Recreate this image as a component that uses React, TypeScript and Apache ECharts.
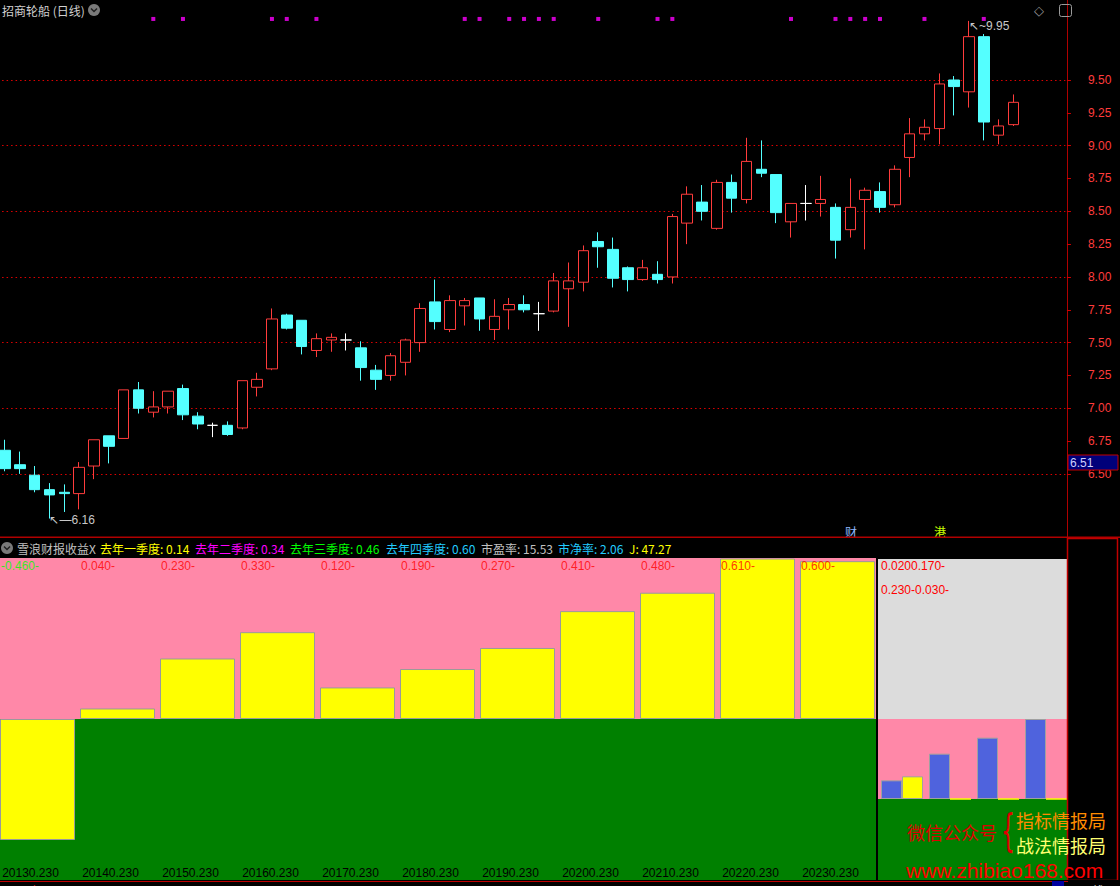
import React, { useEffect, useRef } from "react";
import * as echarts from "echarts";

// ---------------- data ----------------
const stockName = "招商轮船";
const periodName = "日线";
// daily candles: [open, close, low, high]
const candles: number[][] = [
  [6.68, 6.54, 6.52, 6.76],
  [6.57, 6.54, 6.5, 6.67],
  [6.49, 6.38, 6.36, 6.56],
  [6.38, 6.34, 6.16, 6.43],
  [6.36, 6.35, 6.21, 6.42],
  [6.35, 6.55, 6.23, 6.59],
  [6.56, 6.76, 6.46, 6.76],
  [6.79, 6.71, 6.58, 6.79],
  [6.77, 7.14, 6.77, 7.14],
  [7.14, 7.0, 6.96, 7.2],
  [6.97, 7.01, 6.93, 7.13],
  [7.01, 7.13, 6.96, 7.13],
  [7.15, 6.95, 6.91, 7.18],
  [6.94, 6.88, 6.84, 6.97],
  [6.87, 6.87, 6.78, 6.89],
  [6.87, 6.8, 6.79, 6.9],
  [6.85, 7.21, 6.84, 7.21],
  [7.16, 7.22, 7.09, 7.27],
  [7.3, 7.68, 7.29, 7.76],
  [7.71, 7.61, 7.6, 7.72],
  [7.67, 7.47, 7.41, 7.67],
  [7.44, 7.53, 7.39, 7.57],
  [7.52, 7.54, 7.43, 7.57],
  [7.52, 7.52, 7.44, 7.57],
  [7.46, 7.31, 7.21, 7.51],
  [7.29, 7.22, 7.14, 7.33],
  [7.25, 7.4, 7.21, 7.42],
  [7.35, 7.52, 7.25, 7.53],
  [7.5, 7.76, 7.43, 7.8],
  [7.81, 7.66, 7.6, 7.98],
  [7.6, 7.82, 7.58, 7.86],
  [7.78, 7.82, 7.63, 7.84],
  [7.84, 7.68, 7.59, 7.84],
  [7.6, 7.7, 7.52, 7.83],
  [7.75, 7.79, 7.6, 7.84],
  [7.79, 7.75, 7.73, 7.86],
  [7.72, 7.72, 7.59, 7.81],
  [7.74, 7.97, 7.73, 8.03],
  [7.91, 7.97, 7.62, 8.11],
  [7.96, 8.2, 7.89, 8.24],
  [8.27, 8.23, 8.07, 8.34],
  [8.21, 7.99, 7.92, 8.3],
  [8.07, 7.98, 7.89, 8.08],
  [7.98, 8.07, 7.97, 8.13],
  [8.02, 7.98, 7.95, 8.12],
  [8.0, 8.46, 7.95, 8.48],
  [8.41, 8.63, 8.25, 8.69],
  [8.57, 8.5, 8.43, 8.7],
  [8.37, 8.72, 8.36, 8.74],
  [8.72, 8.6, 8.49, 8.78],
  [8.59, 8.88, 8.56, 9.06],
  [8.82, 8.79, 8.76, 9.04],
  [8.78, 8.49, 8.41, 8.78],
  [8.42, 8.56, 8.3, 8.56],
  [8.56, 8.56, 8.43, 8.7],
  [8.56, 8.59, 8.46, 8.77],
  [8.53, 8.28, 8.14, 8.56],
  [8.36, 8.53, 8.3, 8.75],
  [8.59, 8.66, 8.21, 8.68],
  [8.65, 8.53, 8.49, 8.72],
  [8.55, 8.82, 8.53, 8.85],
  [8.91, 9.09, 8.76, 9.21],
  [9.09, 9.14, 9.04, 9.2],
  [9.13, 9.47, 9.01, 9.55],
  [9.5, 9.45, 9.23, 9.53],
  [9.41, 9.83, 9.29, 9.95],
  [9.83, 9.18, 9.04, 9.85],
  [9.08, 9.15, 9.01, 9.2],
  [9.16, 9.33, 9.15, 9.39],
];
const emptyDaysAfter = 3;
// days (1-based) carrying a magenta signal dot
const signalDays = [11, 13, 19, 20, 22, 32, 33, 35, 36, 37, 38, 41, 45, 46, 54, 57, 58, 59, 60, 63, 67];
const signalLevel = 9.965;
const priceTicks = [6.5, 6.75, 7.0, 7.25, 7.5, 7.75, 8.0, 8.25, 8.5, 8.75, 9.0, 9.25, 9.5];
const priceGridLevels = [6.5, 7.0, 7.5, 8.0, 8.5, 9.0, 9.5];
const cursorPrice = 6.51;

const yearLabels = [
  "20130.230", "20140.230", "20150.230", "20160.230", "20170.230", "20180.230",
  "20190.230", "20200.230", "20210.230", "20220.230", "20230.230",
];
const annualEps = [-0.46, 0.04, 0.23, 0.33, 0.12, 0.19, 0.27, 0.41, 0.48, 0.61, 0.6];

const quarterNames = ["一季度", "二季度", "三季度", "四季度"];
const lastYearQuarterEps = [0.14, 0.34, 0.46, 0.6];
const thisYearQuarterEps = [0.17, 0, 0, 0];
const quarterTextRows = ["0.0200.170-", "0.230-0.030-"];
const peRatio = 15.53;
const pbRatio = 2.06;
const jValue = 47.27;

// ---------------- layout / style ----------------
const W = 1120;
const H = 886;
const dayBand = 14.83;
const priceMin = 6.0;
const pxPerUnit = 131.3;
const y950 = 80;
const priceMax = 9.5 + y950 / pxPerUnit;
const epsAxisMin = -0.612;
const epsAxisMax = 0.612;
const qAxisMin = -0.6075;
const qAxisMax = 1.8;

const RED = "#ff3c3c";
const CYAN = "#54ffff";
const PINK = "#ff88a8";
const GREEN = "#008000";
const YELLOW = "#ffff00";
const BLUE = "#4f63dd";
const BORDER = "#a0a0a0";
const CN = "Noto Sans CJK SC";
const LAT = "Liberation Sans";

function buildOption(): any {
  const nDays = candles.length + emptyDaysAfter;
  const dayCats = Array.from({ length: nDays }, (_, i) => String(i + 1));
  const priceLeft = 5 - dayBand / 2;
  const priceHeight = (priceMax - priceMin) * pxPerUnit;
  const lastQMax = Math.max(...lastYearQuarterEps);

  const headerItems: [number, string, string][] = [
    [17, "雪浪财报收益X", "#c0c0c0"],
    [100, `去年一季度: ${lastYearQuarterEps[0].toFixed(2)}`, "#ffff00"],
    [195, `去年二季度: ${lastYearQuarterEps[1].toFixed(2)}`, "#ff00ff"],
    [290, `去年三季度: ${lastYearQuarterEps[2].toFixed(2)}`, "#00ff00"],
    [386, `去年四季度: ${lastYearQuarterEps[3].toFixed(2)}`, "#22ccff"],
    [481, `市盈率: ${peRatio.toFixed(2)}`, "#c0c0c0"],
    [558, `市净率: ${pbRatio.toFixed(2)}`, "#22ccff"],
    [629, `J: ${jValue.toFixed(2)}`, "#ffff00"],
  ];

  const graphics: any[] = [
    // title
    { type: "text", x: 2, y: 10, z: 100, style: { text: `${stockName} (${periodName})`, fill: "#d0d0d0", fontSize: 12, fontFamily: CN, verticalAlign: "middle" } },
    { type: "circle", shape: { cx: 94, cy: 10, r: 6 }, z: 100, style: { fill: "#7a7a7a" } },
    { type: "polyline", shape: { points: [[91, 8.5], [94, 11.5], [97, 8.5]] }, z: 101, style: { stroke: "#202020", lineWidth: 1.5, fill: null } },
    // top right icons
    { type: "text", x: 1034, y: 10, z: 100, style: { text: "◇", fill: "#9a9a9a", fontSize: 13, fontFamily: "DejaVu Sans", verticalAlign: "middle" } },
    { type: "rect", shape: { x: 1059.5, y: 4.5, width: 12, height: 12, r: 2 }, z: 100, style: { stroke: "#9a9a9a", fill: null, lineWidth: 1 } },
    // markers at bottom of price panel
    { type: "text", x: 845, y: 531, z: 100, style: { text: "财", fill: "#8fb8ff", fontSize: 12, fontFamily: CN, verticalAlign: "middle" } },
    { type: "text", x: 934, y: 531, z: 100, style: { text: "港", fill: "#c8ff00", fontSize: 12, fontFamily: CN, verticalAlign: "middle" } },
    // cursor price box
    { type: "rect", shape: { x: 1068, y: 455, width: 50, height: 15 }, z: 100, style: { fill: "#00007a", stroke: "#c00000", lineWidth: 1 } },
    { type: "text", x: 1070, y: 463, z: 101, style: { text: cursorPrice.toFixed(2), fill: "#d0d0ff", fontSize: 12, fontFamily: LAT, verticalAlign: "middle" } },
    // panel separator
    { type: "rect", shape: { x: 0, y: 536.5, width: W, height: 1.5 }, z: 100, style: { fill: "#b00000" } },
    { type: "rect", shape: { x: 0, y: 538, width: 1068, height: 20 }, z: 100, style: { fill: "#000" } },
    // header icon
    { type: "circle", shape: { cx: 7, cy: 548, r: 6 }, z: 101, style: { fill: "#7a7a7a" } },
    { type: "polyline", shape: { points: [[4, 546.5], [7, 549.5], [10, 546.5]] }, z: 102, style: { stroke: "#202020", lineWidth: 1.5, fill: null } },
    ...headerItems.map(([x, t, c]) => ({
      type: "text", x, y: 548, z: 101,
      style: { text: t, fill: c, fontSize: 12, fontFamily: CN, verticalAlign: "middle" },
    })),
    // separator between the two lower panels
    { type: "rect", shape: { x: 876, y: 558, width: 2, height: 322 }, z: 100, style: { fill: "#000" } },
    ...quarterTextRows.map((t, i) => ({
      type: "text", x: 881, y: 566 + i * 24, z: 100,
      style: { text: t, fill: "#ff0000", fontSize: 12, fontFamily: LAT, verticalAlign: "middle" },
    })),
    // right black box
    { type: "rect", shape: { x: 1067.5, y: 538.5, width: 50, height: 342 }, z: 100, style: { fill: "#000", stroke: "#c00000", lineWidth: 1.5 } },
    // bottom strip
    { type: "rect", shape: { x: 0, y: 880, width: W, height: 6 }, z: 100, style: { fill: "#000" } },
    { type: "line", shape: { x1: 0, y1: 881.5, x2: 1068, y2: 881.5 }, z: 101, style: { stroke: "#c00000", lineWidth: 1 } },
    { type: "text", x: 4, y: 884, z: 101, style: { text: "2021年", fill: "#ff2020", fontSize: 12, fontFamily: CN, verticalAlign: "top" } },
    { type: "rect", shape: { x: 1052, y: 881, width: 12, height: 5 }, z: 101, style: { fill: "#0000a0" } },
    { type: "text", x: 1080, y: 884, z: 101, style: { text: "日线", fill: "#e0e0e0", fontSize: 12, fontFamily: CN, verticalAlign: "top" } },
    // watermark
    { type: "text", x: 907, y: 832, z: 110, style: { text: "微信公众号", fill: "#e00000", fontSize: 18, fontFamily: CN, verticalAlign: "middle" } },
    { type: "text", x: 1001, y: 831, z: 110, scaleX: 0.5, style: { text: "{", fill: "#e00000", fontSize: 44, fontFamily: "DejaVu Sans", verticalAlign: "middle" } },
    { type: "text", x: 1016, y: 820, z: 110, style: { text: "指标情报局", fill: "#ff8c00", fontSize: 18, fontFamily: CN, verticalAlign: "middle" } },
    { type: "text", x: 1016, y: 845, z: 110, style: { text: "战法情报局", fill: "#ffff70", fontSize: 18, fontFamily: CN, verticalAlign: "middle" } },
    { type: "text", x: 906, y: 870, z: 110, style: { text: "www.zhibiao168.com", fill: "#ff0000", fontSize: 21, fontFamily: LAT, verticalAlign: "middle" } },
  ];

  return {
    animation: false,
    backgroundColor: "#000000",
    grid: [
      { left: priceLeft, top: 0, width: nDays * dayBand, height: priceHeight, outerBoundsMode: "none", containLabel: false },
      { left: -2.5, top: 558, width: 880, height: 322, outerBoundsMode: "none", containLabel: false },
      { left: 878, top: 559, width: 192, height: 321, outerBoundsMode: "none", containLabel: false },
    ],
    xAxis: [
      { type: "category", gridIndex: 0, data: dayCats, show: false },
      {
        type: "category", gridIndex: 1, data: yearLabels, z: 10,
        axisLine: { show: false }, axisTick: { show: false }, splitLine: { show: false },
        axisLabel: {
          inside: true, interval: 0, margin: 1,
          formatter: (v: string) => `{t|${v}}{s|}`,
          rich: { t: { color: "#000", fontSize: 12, fontFamily: LAT }, s: { width: 14 } },
        },
      },
      { type: "category", gridIndex: 2, data: quarterNames, show: false },
    ],
    yAxis: [
      {
        type: "value", gridIndex: 0, position: "right", offset: 1.6,
        min: priceMin, max: priceMax, interval: 0.25,
        splitLine: { show: false },
        axisLine: { show: true, lineStyle: { color: "#b00000", width: 1 } },
        axisTick: { show: true, length: 4, lineStyle: { color: "#d00000" }, customValues: priceTicks },
        axisLabel: {
          color: RED, fontSize: 12, fontFamily: LAT, margin: 21, align: "left",
          customValues: priceTicks,
          formatter: (v: number) => (v >= 6.5 - 1e-9 && v <= 9.5 + 1e-9 ? v.toFixed(2) : ""),
        },
      },
      { type: "value", gridIndex: 1, min: epsAxisMin, max: epsAxisMax, show: false, splitLine: { show: false } },
      { type: "value", gridIndex: 2, min: qAxisMin, max: qAxisMax, show: false, splitLine: { show: false } },
    ],
    series: [
      {
        type: "candlestick", xAxisIndex: 0, yAxisIndex: 0, data: candles, barWidth: 11,
        itemStyle: {
          color: "#000000", color0: CYAN, borderColor: RED, borderColor0: CYAN,
          borderColorDoji: "#ffffff", borderWidth: 1,
        },
        markLine: {
          silent: true, z: 1, symbol: ["none", "none"], label: { show: false },
          lineStyle: { color: "#e00000", type: [1.5, 3], width: 1.2 },
          data: priceGridLevels.map((v) => ({ yAxis: v })),
        },
        markPoint: {
          silent: true, symbol: "circle", symbolSize: 1,
          itemStyle: { color: "rgba(0,0,0,0)" },
          label: { show: true, position: "inside", align: "left", color: "#c8c8c8", fontSize: 12, fontFamily: LAT },
          data: [
            { type: "max", valueDim: "highest", label: { offset: [0, 5], formatter: (p: any) => "↖~" + Number(p.value).toFixed(2) } },
            { type: "min", valueDim: "lowest", label: { offset: [0, 1], formatter: (p: any) => "↖—" + Number(p.value).toFixed(2) } },
          ],
        },
      },
      {
        type: "scatter", xAxisIndex: 0, yAxisIndex: 0, symbol: "rect", symbolSize: 4,
        itemStyle: { color: "#ff00ff" }, silent: true,
        data: signalDays.map((d) => [d - 1, signalLevel]),
      },
      {
        type: "bar", xAxisIndex: 1, yAxisIndex: 1, data: annualEps, barWidth: 75,
        itemStyle: { color: YELLOW, borderColor: "#9a9a9a", borderWidth: 1 },
        markArea: {
          silent: true,
          data: [
            [{ yAxis: 0, itemStyle: { color: PINK } }, { yAxis: epsAxisMax }],
            [{ yAxis: epsAxisMin, itemStyle: { color: GREEN } }, { yAxis: 0 }],
          ],
        },
      },
      {
        type: "scatter", xAxisIndex: 1, yAxisIndex: 1, symbolSize: 1, clip: false, silent: true,
        itemStyle: { color: "rgba(0,0,0,0)" },
        data: annualEps.map((v, i) => ({
          value: [i, epsAxisMax],
          label: { color: v < 0 ? "#00ff00" : "#ff0000" },
        })),
        label: {
          show: true, position: "inside", align: "left", verticalAlign: "middle", offset: [-36.5, 8],
          fontSize: 12, fontFamily: LAT,
          formatter: (p: any) => `${annualEps[p.dataIndex].toFixed(3)}-`,
        },
      },
      {
        type: "bar", xAxisIndex: 2, yAxisIndex: 2, data: lastYearQuarterEps, barWidth: 21, barGap: "0%",
        itemStyle: { color: BLUE, borderColor: BORDER, borderWidth: 1 },
        markArea: {
          silent: true,
          data: [
            [{ yAxis: lastQMax, itemStyle: { color: "#dcdcdc" } }, { yAxis: qAxisMax }],
            [{ yAxis: 0, itemStyle: { color: PINK } }, { yAxis: lastQMax }],
            [{ yAxis: qAxisMin, itemStyle: { color: GREEN } }, { yAxis: 0 }],
          ],
        },
      },
      {
        type: "bar", xAxisIndex: 2, yAxisIndex: 2, barWidth: 21, barGap: "0%",
        data: thisYearQuarterEps.map((v) => ({
          value: v,
          itemStyle: { borderColor: v === 0 ? YELLOW : BORDER },
        })),
        itemStyle: { color: YELLOW, borderColor: BORDER, borderWidth: 1 },
      },
    ],
    graphic: graphics,
  };
}

export default function App() {
  const ref = useRef<HTMLDivElement>(null);
  useEffect(() => {
    if (!ref.current) return;
    const chart = echarts.init(ref.current, undefined, { renderer: "svg" });
    chart.setOption(buildOption());
    return () => chart.dispose();
  }, []);
  return (
    <div style={{ position: "absolute", left: 0, top: 0, width: W, height: H, background: "#000" }}>
      <div ref={ref} style={{ width: W, height: H }} />
    </div>
  );
}
